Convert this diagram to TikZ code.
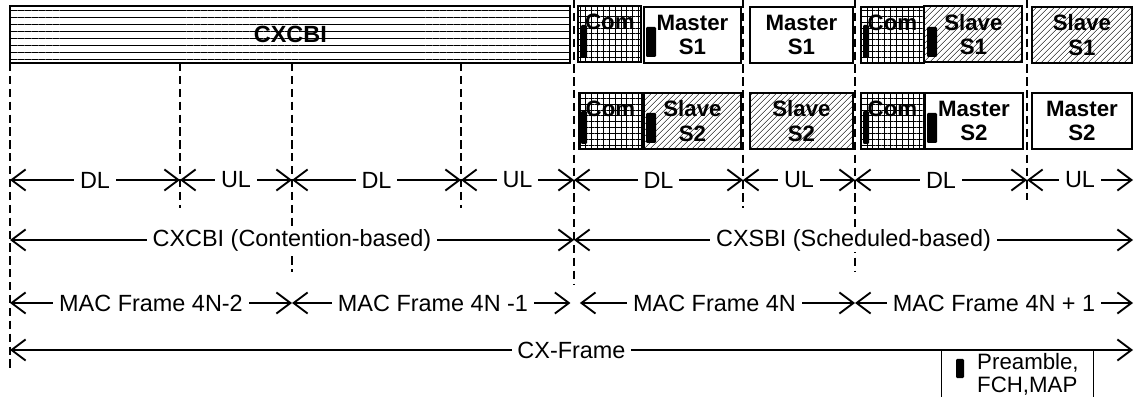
\documentclass[tikz,border=0pt]{standalone}
\usepackage{fontspec}
\setmainfont{Liberation Sans}
\usetikzlibrary{arrows.meta, patterns.meta}

\begin{document}
\begin{tikzpicture}[
    x=0.3mm, y=-0.3mm,
    font=\fontsize{20}{24}\selectfont,
    slot/.style={draw, line width=1.6pt, inner sep=0pt, anchor=north west, minimum height=56*0.3mm, align=center, font=\bfseries\fontsize{19}{21}\selectfont},
    combox/.style={slot, minimum width=63*0.3mm, pattern={Hatch[angle=0, distance=5pt, line width=0.6pt]}},
    mastbox/.style={slot, minimum width=#1*0.3mm},
    slavebox/.style={slot, minimum width=#1*0.3mm, pattern={Lines[angle=45, distance=4pt, line width=0.6pt]}},
    pre/.style={fill=black, rounded corners=1pt},
    sep/.style={line width=1.6pt, dash pattern=on 7pt off 4pt},
    dim/.style={line width=1.2pt, {Straight Barb[length=12pt, width=18pt, line width=1.6pt]}-{Straight Barb[length=12pt, width=18pt, line width=1.6pt]}},
    lbl/.style={fill=white, inner xsep=5pt, inner ysep=1pt}
]
    \useasboundingbox (0,0) rectangle (1135,397);

    % boundaries
    \foreach \i/\x/\ya/\yb in {0/10/63/368, 1/180/63/208, 2/292/63/272, 3/461/63/208, 4/574/0/285, 5/743/0/208, 6/855/0/272, 7/1027/0/200} {
        \coordinate (t\i) at (\x,\ya);
        \coordinate (e\i) at (\x,\yb);
        \draw[sep] (t\i) -- (e\i);
    }
    \coordinate (t8) at (1133,0);

    % contention part
    \node[slot, minimum width=560*0.3mm, minimum height=57*0.3mm, pattern={Lines[angle=0, distance=6pt, line width=0.6pt]}, font=\bfseries\fontsize{20}{24}\selectfont] (cb) at (10,6) {CXCBI};

    % scheduled part, first row
    \node[combox] (c1) at (578,6) {Com\\\phantom{S1}};
    \node[mastbox=97] (m1a) at (643,6) {Master\\S1};
    \node[mastbox=103] (m1b) at (749,6) {Master\\S1};
    \node[combox] (c2) at (860,6) {Com\\\phantom{S1}};
    \node[slavebox=98] (s1a) at (924,6) {Slave\\S1};
    \node[slavebox=100] (s1b) at (1031,6) {Slave\\S1};

    % second row
    \node[combox] (c3) at (578,92) {Com\\\phantom{S2}};
    \node[slavebox=97] (s2a) at (643,92) {Slave\\S2};
    \node[slavebox=103] (s2b) at (749,92) {Slave\\S2};
    \node[combox] (c4) at (860,92) {Com\\\phantom{S2}};
    \node[mastbox=98] (m2a) at (924,92) {Master\\S2};
    \node[mastbox=100] (m2b) at (1031,92) {Master\\S2};

    \foreach \n in {c1,c2,c3,c4}
        \fill[pre] ([shift={(3,19)}]\n.north west) rectangle ++(6,33);
    \foreach \n in {m1a,s1a,s2a,m2a}
        \fill[pre] ([shift={(3,21)}]\n.north west) rectangle ++(10,30);

    % rows of arrows
    \coordinate (dl) at (0,180);
    \coordinate (bi) at (0,240);
    \coordinate (mac) at (0,303);
    \coordinate (cx) at (0,350);

    \foreach \a/\b/\t in {0/1/DL, 1/2/UL, 2/3/DL, 3/4/UL, 4/5/DL, 5/6/UL, 6/7/DL, 7/8/UL}
        \draw[dim] (t\a |- dl) -- node[lbl] {\t} (t\b |- dl);

    \draw[dim] (t0 |- bi) -- node[lbl] {CXCBI (Contention-based)} (t4 |- bi);
    \draw[dim] (t4 |- bi) -- node[lbl] {CXSBI (Scheduled-based)} (t8 |- bi);

    \draw[dim] (t0 |- mac) -- node[lbl] {MAC Frame 4N-2} (t2 |- mac);
    \draw[dim, shorten >=3pt] (t2 |- mac) -- node[lbl] {MAC Frame 4N -1} (t4 |- mac);
    \draw[dim, shorten <=5pt] (t4 |- mac) -- node[lbl] {MAC Frame 4N} (t6 |- mac);
    \draw[dim] (t6 |- mac) -- node[lbl] {MAC Frame 4N + 1} (t8 |- mac);

    \draw[dim] (t0 |- cx) -- node[lbl] {CX-Frame} (t8 |- cx);

    % legend
    \node[draw, line width=1pt, anchor=north west, minimum width=152*0.3mm, minimum height=55*0.3mm, inner sep=0pt, fill=white] (leg) at (941,350) {};
    \draw[line width=2pt] (leg.north west) -- (leg.north east);
    \fill[pre] ([shift={(15,9)}]leg.north west) rectangle ++(8,19);
    \node[anchor=north west, align=left, inner sep=0pt, font=\fontsize{19}{20}\selectfont] (legtext) at ([shift={(36,3)}]leg.north west) {Preamble,\\FCH,MAP};
\end{tikzpicture}
\end{document}
